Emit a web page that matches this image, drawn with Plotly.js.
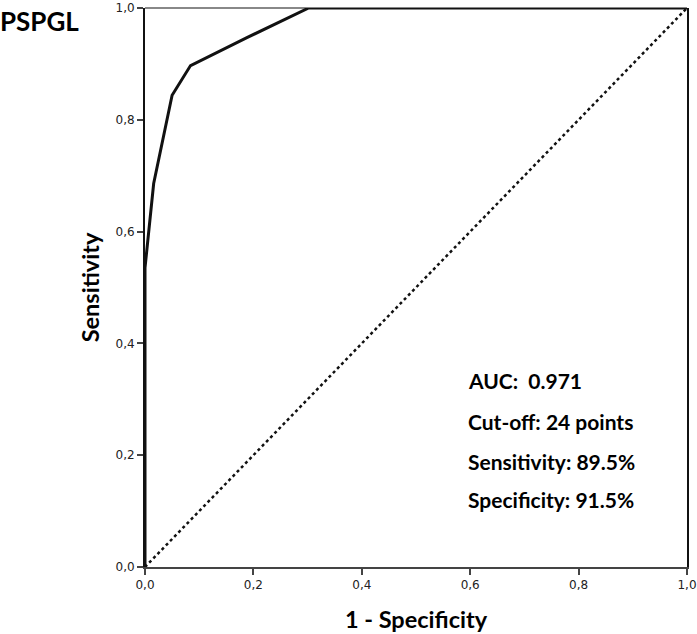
<!DOCTYPE html>
<html>
<head>
<meta charset="utf-8">
<script src="https://cdn.plot.ly/plotly-3.0.1.min.js"></script>
<style>
  html, body { margin: 0; padding: 0; background: #fff; }
  #chart { width: 697px; height: 634px; }
</style>
</head>
<body>
<div id="chart"></div>
<script>
// ROC curve points (1 - specificity, sensitivity)
const fpr = [0, 0, 0.016, 0.050, 0.084, 0.188, 0.302, 1];
const tpr = [0, 0.535, 0.686, 0.844, 0.897, 0.947, 1, 1];

// reference (chance) line
const refX = [0, 1];
const refY = [0, 1];

const tickVals = [0, 0.2, 0.4, 0.6, 0.8, 1.0];

const statLabels = ['AUC:\u00a0 0.971', 'Cut-off: 24 points', 'Sensitivity: 89.5%', 'Specificity: 91.5%'];
const statY = [0.333, 0.260, 0.189, 0.120];

const boldFont = 'Lato, "Open Sans", sans-serif';

const traces = [
    {
        x: refX, y: refY,
        type: 'scatter', mode: 'lines',
        line: { color: '#111', width: 2.5, dash: 'dot' },
        hoverinfo: 'skip',
    },
    {
        x: fpr, y: tpr,
        type: 'scatter', mode: 'lines',
        line: { color: '#111', width: 3 },
    },
];

const axisCommon = {
    range: [0, 1],
    tickvals: tickVals,
    tickformat: '.1f',
    ticks: 'outside',
    ticklen: 6,
    tickwidth: 2,
    tickcolor: '#444',
    tickfont: { family: '"DejaVu Sans", Verdana, sans-serif', size: 12, color: '#222' },
    ticklabeloverflow: 'allow',
    showgrid: false,
    zeroline: false,
    showline: true,
    linewidth: 2,
    fixedrange: true,
};

const layout = {
    width: 697,
    height: 634,
    margin: { l: 145, r: 10, t: 8, b: 67 },
    paper_bgcolor: '#fff',
    plot_bgcolor: '#fff',
    showlegend: false,
    separators: ', ',
    title: {
        text: '<b>PSPGL</b>',
        font: { family: boldFont, size: 26, color: '#000' },
        xref: 'container', x: 0, xanchor: 'left',
        yref: 'container', y: 0.965, yanchor: 'middle',
    },
    xaxis: Object.assign({}, axisCommon, {
        linecolor: '#444',
        title: {
            text: '<b>1 - Specificity</b>',
            font: { family: boldFont, size: 23.5, color: '#000' },
            standoff: 20,
        },
    }),
    yaxis: Object.assign({}, axisCommon, {
        linecolor: '#111',
        mirror: true,
        title: {
            text: '<b>Sensitivity</b>',
            font: { family: boldFont, size: 23.5, color: '#000' },
            standoff: 9,
        },
    }),
    shapes: [
        // top border of the frame is drawn lighter
        { type: 'line', xref: 'paper', yref: 'paper', x0: 0, x1: 1, y0: 1, y1: 1,
          line: { color: '#888', width: 2 }, layer: 'below' },
    ],
    annotations: statLabels.map((t, i) => ({
        text: '<b>' + t + '</b>',
        x: 0.592, y: statY[i],
        xref: 'x', yref: 'y',
        xanchor: 'left', yanchor: 'middle',
        showarrow: false,
        font: { family: boldFont, size: 21, color: '#000' },
    })),
};

Plotly.newPlot('chart', traces, layout, { displayModeBar: false, staticPlot: true });
</script>
</body>
</html>
